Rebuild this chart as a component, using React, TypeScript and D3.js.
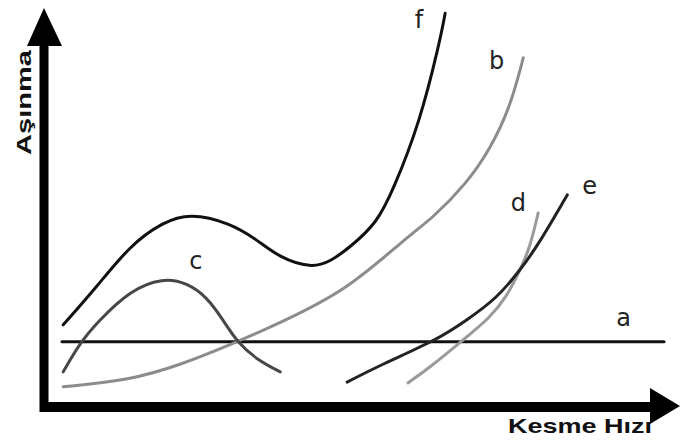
import React from "react";
import * as d3 from "d3";

type P = [number, number];

// Schematic curves (x: cutting speed units 0..10, y: wear units 0..10)
const curveA: P[] = [[0.29, 1.65], [10.0, 1.65]];
const curveF: P[] = [
  [0.31, 2.08], [0.85, 3.04], [1.39, 4.1], [1.92, 4.68], [2.35, 4.91], [3.0, 4.66],
  [3.44, 4.23], [3.81, 3.77], [4.31, 3.52], [4.61, 3.67], [4.94, 4.05], [5.37, 4.66],
  [5.63, 5.49], [6.06, 7.19], [6.39, 9.29], [6.47, 9.97],
];
const curveB: P[] = [
  [0.31, 0.51], [1.39, 0.68], [2.19, 1.06], [3.0, 1.57], [3.81, 2.13], [4.89, 2.96],
  [5.85, 4.3], [6.27, 4.78], [6.82, 5.67], [7.19, 6.51], [7.52, 7.59], [7.73, 8.84],
];
const curveC: P[] = [
  [0.31, 0.89], [0.58, 1.62], [0.85, 2.13], [1.39, 2.96], [1.92, 3.27], [2.31, 3.14],
  [2.63, 2.78], [2.89, 2.2], [3.11, 1.65], [3.44, 1.19], [3.81, 0.89],
];
const curveE: P[] = [
  [4.89, 0.63], [5.42, 1.06], [6.34, 1.7], [6.82, 2.2], [7.31, 2.76], [7.68, 3.47],
  [7.95, 4.05], [8.44, 5.37],
];
const curveD: P[] = [
  [5.87, 0.61], [6.23, 1.01], [6.76, 1.7], [7.19, 2.25], [7.47, 2.81], [7.68, 3.47],
  [7.84, 4.05], [7.97, 4.91],
];

const curveNames = ["a", "b", "c", "d", "e", "f"];
const curveData: P[][] = [curveA, curveB, curveC, curveD, curveE, curveF];
const curveColors = ["#111", "#8c8c8c", "#474747", "#9a9a9a", "#222", "#111"];
const labelPos: P[] = [[9.35, 2.05], [7.3, 8.55], [2.45, 3.5], [7.65, 4.95], [8.8, 5.4], [6.05, 9.6]];

const yTitle = "Aşınma";
const xTitle = "Kesme Hızı";

export default function App() {
  const W = 681, H = 441;
  const x = d3.scaleLinear().domain([0, 10]).range([44, 664]);
  const y = d3.scaleLinear().domain([0, 10]).range([407, 12]);
  const line = d3
    .line<P>()
    .x((d) => x(d[0]))
    .y((d) => y(d[1]))
    .curve(d3.curveBasis);

  return (
    <svg width={W} height={H} style={{ position: "absolute", left: 0, top: 0, background: "#fff" }}>
      <rect width={W} height={H} fill="#fff" />
      {curveData.map((c, i) => (
        <path key={i} d={line(c) || ""} fill="none" stroke={curveColors[i]} strokeWidth={3} strokeLinecap="round" />
      ))}
      {curveNames.map((n, i) => (
        <text
          key={n}
          x={x(labelPos[i][0])}
          y={y(labelPos[i][1])}
          fontFamily="'DejaVu Sans', sans-serif"
          fontSize={24}
          fill="#222"
          textAnchor="middle"
        >
          {n}
        </text>
      ))}
      {/* axes */}
      <rect x={x(0) - 4.5} y={40} width={9} height={372} fill="#000" />
      <polygon points={`${x(0)},8 ${x(0) - 17},46 ${x(0) + 18},46`} fill="#000" />
      <rect x={40} y={y(0) - 5} width={615} height={10} fill="#000" />
      <polygon points={`680,${y(0) - 1} 650,${y(0) - 19} 650,${y(0) + 17}`} fill="#000" />
      <text
        x={508}
        y={433}
        fontFamily="'Liberation Sans', Arial, sans-serif"
        fontWeight="bold"
        fontSize={21}
        fill="#111"
        textLength={144}
        lengthAdjust="spacingAndGlyphs"
      >
        {xTitle}
      </text>
      <text
        transform={`translate(31,155) rotate(-90)`}
        fontFamily="'Liberation Sans', Arial, sans-serif"
        fontWeight="bold"
        fontSize={21}
        fill="#111"
        textLength={105}
        lengthAdjust="spacingAndGlyphs"
      >
        {yTitle}
      </text>
    </svg>
  );
}
